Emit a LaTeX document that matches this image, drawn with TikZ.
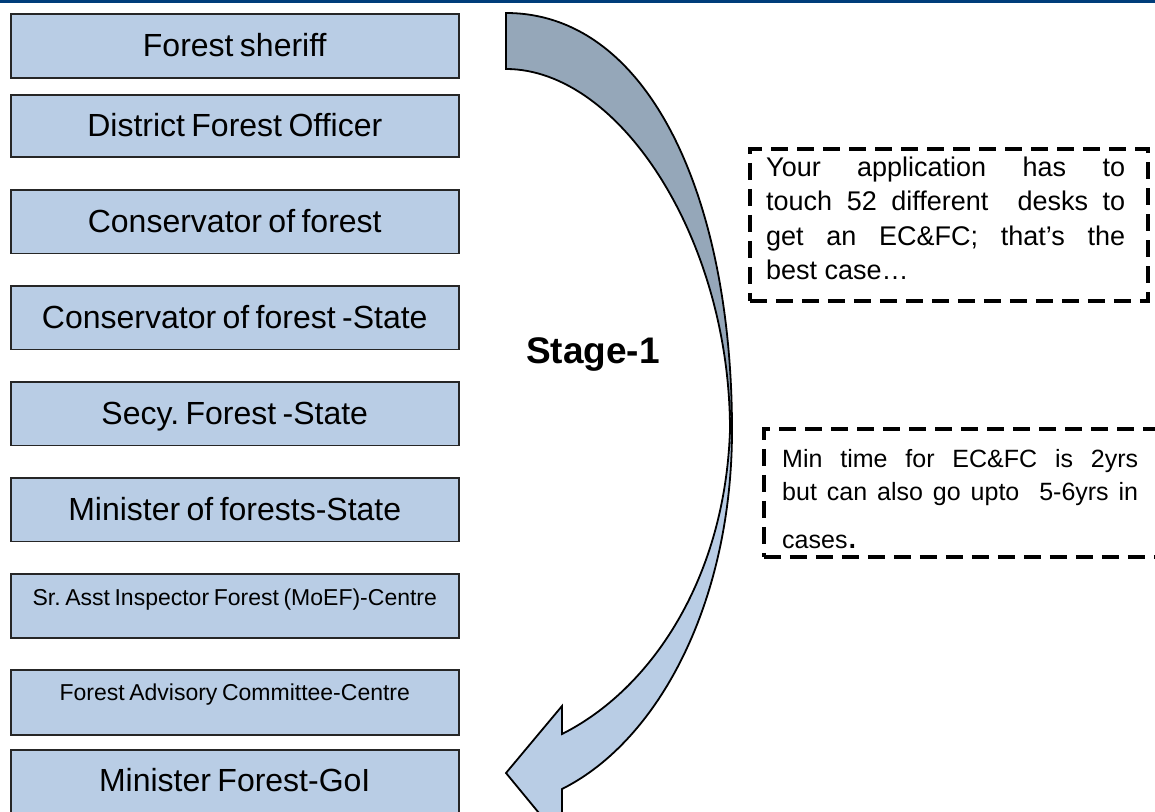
\documentclass[tikz,border=0pt]{standalone}
\usepackage{fontspec}
\setmainfont{Liberation Sans}
\definecolor{boxfill}{RGB}{185,205,229}
\definecolor{backfill}{RGB}{149,167,185}
\definecolor{topline}{RGB}{0,61,122}
\newcommand{\tightspaces}{\frenchspacing\spaceskip=0.2em\relax}
\begin{document}
\begin{tikzpicture}[x=1pt,y=-1pt,
  stepbox/.style={draw=black!85, line width=1.5pt, fill=boxfill, minimum width=448pt,
    inner sep=0pt, anchor=north west, minimum height=63.5pt, execute at begin node=\tightspaces},
  bigtext/.style={font=\fontsize{32}{38}\selectfont, text height=22pt, text depth=0pt},
  smalltext/.style={font=\fontsize{23}{27}\selectfont, text height=10pt, text depth=10pt},
  arrowline/.style={draw=black, line width=1.8pt, line join=miter},
  notebox/.style={draw=black, line width=3.5pt, dash pattern=on 17pt off 9pt, inner sep=0pt, anchor=north west}]
\useasboundingbox (0,0) rectangle (1155,811);
\clip (0,0) rectangle (1155,811);
\fill[white] (0,0) rectangle (1155,811);
\draw[topline, line width=3pt] (0,1) -- (1155,1);
% stage boxes
\node[stepbox, bigtext, minimum height=64pt] (b1) at (10,13) {Forest sheriff};
\node[stepbox, bigtext, minimum height=62pt] (b2) at (10,94) {District Forest Officer};
\node[stepbox, bigtext] (b3) at (10,189) {Conservator of forest};
\node[stepbox, bigtext] (b4) at (10,285) {Conservator of forest -State};
\node[stepbox, bigtext] (b5) at (10,381) {Secy. Forest -State};
\node[stepbox, bigtext] (b6) at (10,477) {Minister of forests-State};
\node[stepbox, smalltext, minimum height=64pt] (b7) at (10,573) {Sr. Asst Inspector Forest (MoEF)-Centre};
\node[stepbox, smalltext, minimum height=65pt, text depth=13pt] (b8) at (10,669) {Forest Advisory Committee-Centre};
\node[stepbox, bigtext, minimum height=84pt, text height=10pt, text depth=10pt] (b9) at (10,749) {Minister Forest-GoI};
% curved arrow
\draw[arrowline, fill=boxfill] (732,430) .. controls (732,600) and (660,740) .. (562,789)
  -- (562,841) -- (506,773) -- (562,706) -- (562,734)
  .. controls (650,690) and (725,580) .. (730,430) -- cycle;
\draw[arrowline, fill=backfill] (506,13) .. controls (650,13) and (732,200) .. (732,430)
  -- (730,430) .. controls (730,240) and (620,69) .. (506,69) -- cycle;
\node[font=\bfseries\fontsize{37}{40}\selectfont, anchor=base, inner sep=0pt] (stage) at (593,363) {Stage-1};
% notes
\node[notebox, minimum width=398pt, minimum height=152pt] (n1) at (748,147) {};
\node[anchor=base west, inner sep=0pt] (n1t) at (766,176) {\parbox[t]{359pt}{\fontsize{27}{34.5}\selectfont
  \makebox[359pt][s]{Your application has to}\\
  \makebox[359pt][s]{touch 52 different\ \ desks to}\\
  \makebox[359pt][s]{get an EC\&FC; that’s the}\\
  best case…}};
\node[notebox, minimum width=420pt, minimum height=128pt] (n2) at (762,427) {};
\node[anchor=base west, inner sep=0pt] (n2t) at (782,467) {\parbox[t]{356pt}{\fontsize{25}{33.5}\selectfont
  \makebox[356pt][s]{Min time for EC\&FC is 2yrs}\\
  \makebox[356pt][s]{but can also go upto\ \ 5-6yrs in}\\[14.5pt]
  cases{\fontsize{38}{38}\selectfont .}}};
\end{tikzpicture}
\end{document}
